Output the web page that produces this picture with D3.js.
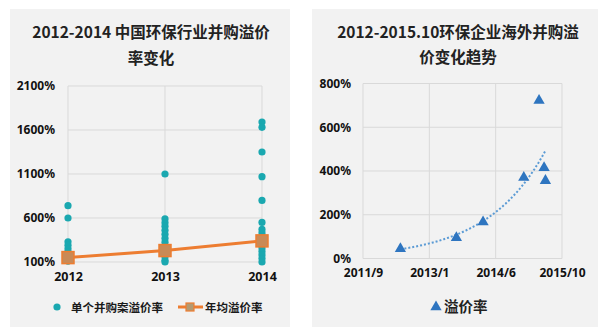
<!DOCTYPE html>
<html><head><meta charset="utf-8">
<script src="https://cdn.jsdelivr.net/npm/d3@7"></script>
<style>
body{margin:0;background:#fff;}
svg{display:block;font-family:"Noto Sans CJK SC","Noto Sans",sans-serif;}
</style></head>
<body><svg id="c" width="610" height="335"></svg>
<script>
// ---- Left chart data ----
const years = ["2012", "2013", "2014"];
const deals2012 = [740, 600, 330, 290, 250, 215, 180, 145, 110];
const deals2013 = [1100, 590, 545, 505, 460, 415, 370, 325, 280, 240, 200, 160, 120, 100];
const deals2014 = [1690, 1630, 1350, 1070, 800, 550, 470, 430, 390, 350, 305, 260, 220, 180, 140, 100];
const avgRate = [150, 230, 340];
const leftTicks = [100, 600, 1100, 1600, 2100];

// ---- Right chart data ----
const dealDates = ["2012-06-22", "2013-08-18", "2014-03-07", "2015-01-08", "2015-05-03", "2015-06-10", "2015-06-20"];
const dealPremium = [45, 95, 167, 370, 722, 415, 356];
const rightTicksY = [0, 200, 400, 600, 800];
const rightTicksX = ["2011-09-14", "2013-01-26", "2014-06-10", "2015-10-23"];

const svg = d3.select("#c");
const teal = "#1aa8b0", orange = "#ed7d31", blue = "#2e75c0", grid = "#d9d9d9";

// panels
svg.append("rect").attr("x", 10).attr("y", 9).attr("width", 280).attr("height", 318).attr("fill", "#f2f2f2");
svg.append("rect").attr("x", 312).attr("y", 9).attr("width", 286).attr("height", 318).attr("fill", "#f2f2f2");

// ===== Left chart =====
const L = svg.append("g");
L.append("text").attr("x", 151).attr("y", 38).attr("text-anchor", "middle").attr("font-size", 15.5).attr("font-weight", "bold").attr("fill", "#222").text("2012-2014 中国环保行业并购溢价");
L.append("text").attr("x", 151).attr("y", 64).attr("text-anchor", "middle").attr("font-size", 15.5).attr("font-weight", "bold").attr("fill", "#222").text("率变化");

const xL = d3.scalePoint().domain(years).range([68, 262]);
const yL = d3.scaleLinear().domain([100, 2100]).range([262, 86]);

// grid
L.append("g").selectAll("line").data(leftTicks).join("line")
  .attr("x1", 68).attr("x2", 262).attr("y1", d => yL(d)).attr("y2", d => yL(d))
  .attr("stroke", grid).attr("stroke-width", 1);
L.append("g").selectAll("line").data(years).join("line")
  .attr("x1", d => xL(d)).attr("x2", d => xL(d)).attr("y1", 86).attr("y2", 262)
  .attr("stroke", grid).attr("stroke-width", 1);

// axes
const axLY = d3.axisLeft(yL).tickValues(leftTicks).tickFormat(d => d + "%").tickSize(0).tickPadding(13);
const gLY = L.append("g").attr("transform", "translate(68,0)").call(axLY);
gLY.select(".domain").remove();
gLY.selectAll("text").attr("font-size", 12).attr("font-weight", "bold").attr("fill", "#111").attr("font-family", "'Noto Sans',sans-serif");
const axLX = d3.axisBottom(xL).tickSize(0).tickPadding(10);
const gLX = L.append("g").attr("transform", "translate(0,262)").call(axLX);
gLX.select(".domain").remove();
gLX.selectAll("text").attr("font-size", 12.5).attr("font-weight", "bold").attr("fill", "#111").attr("font-family", "'Noto Sans',sans-serif");

// dots
const dealsAll = [deals2012, deals2013, deals2014];
const dotData = [];
dealsAll.forEach((arr, i) => arr.forEach(v => dotData.push({ yr: years[i], v })));
L.append("g").selectAll("circle").data(dotData).join("circle")
  .attr("cx", d => xL(d.yr)).attr("cy", d => yL(d.v)).attr("r", 3.6).attr("fill", teal);

// average line
const avgData = years.map((y, i) => ({ yr: y, v: avgRate[i] }));
L.append("path").datum(avgData)
  .attr("d", d3.line().x(d => xL(d.yr)).y(d => yL(d.v)))
  .attr("fill", "none").attr("stroke", orange).attr("stroke-width", 3);
L.append("g").selectAll("rect").data(avgData).join("rect")
  .attr("x", d => xL(d.yr) - 6).attr("y", d => yL(d.v) - 6).attr("width", 12).attr("height", 12)
  .attr("fill", "#c98a56").attr("stroke", orange).attr("stroke-width", 1.5);

// legend
L.append("circle").attr("cx", 57).attr("cy", 307).attr("r", 3.6).attr("fill", teal);
L.append("text").attr("x", 71).attr("y", 311.5).attr("font-size", 11.5).attr("font-weight", "bold").attr("fill", "#1a1a1a").text("单个并购案溢价率");
L.append("line").attr("x1", 178).attr("x2", 203).attr("y1", 307).attr("y2", 307).attr("stroke", orange).attr("stroke-width", 3);
L.append("rect").attr("x", 186).attr("y", 303).attr("width", 8).attr("height", 8).attr("fill", "#b39a72").attr("stroke", orange).attr("stroke-width", 1.2);
L.append("text").attr("x", 205).attr("y", 311.5).attr("font-size", 11.5).attr("font-weight", "bold").attr("fill", "#1a1a1a").text("年均溢价率");

// ===== Right chart =====
const R = svg.append("g");
R.append("text").attr("x", 458).attr("y", 38).attr("text-anchor", "middle").attr("font-size", 15.5).attr("font-weight", "bold").attr("fill", "#222").text("2012-2015.10环保企业海外并购溢");
R.append("text").attr("x", 458).attr("y", 63).attr("text-anchor", "middle").attr("font-size", 15.5).attr("font-weight", "bold").attr("fill", "#222").text("价变化趋势");

const parse = d3.timeParse("%Y-%m-%d");
const tickDates = rightTicksX.map(parse);
const xR = d3.scaleTime().domain([tickDates[0], tickDates[tickDates.length - 1]]).range([363, 562]);
const yR = d3.scaleLinear().domain([0, 800]).range([258.5, 83.5]);

R.append("g").selectAll("line").data(rightTicksY).join("line")
  .attr("x1", 363).attr("x2", 562).attr("y1", d => yR(d)).attr("y2", d => yR(d))
  .attr("stroke", grid);
R.append("g").selectAll("line").data(tickDates).join("line")
  .attr("x1", d => xR(d)).attr("x2", d => xR(d)).attr("y1", 83.5).attr("y2", 258.5)
  .attr("stroke", grid);

const axRY = d3.axisLeft(yR).tickValues(rightTicksY).tickFormat(d => d + "%").tickSize(0).tickPadding(12);
const gRY = R.append("g").attr("transform", "translate(363,0)").call(axRY);
gRY.select(".domain").remove();
gRY.selectAll("text").attr("font-size", 12).attr("font-weight", "bold").attr("fill", "#111").attr("font-family", "'Noto Sans',sans-serif");
const axRX = d3.axisBottom(xR).tickValues(tickDates).tickFormat(d3.timeFormat("%Y/%-m")).tickSize(0).tickPadding(10);
const gRX = R.append("g").attr("transform", "translate(0,258.5)").call(axRX);
gRX.select(".domain").remove();
gRX.selectAll("text").attr("font-size", 12).attr("font-weight", "bold").attr("fill", "#111").attr("font-family", "'Noto Sans',sans-serif");

// exponential trendline (least squares on ln y)
const pts = dealDates.map((d, i) => ({ t: parse(d), v: dealPremium[i] }));
const day = 86400000;
const xs = pts.map(p => p.t / day), ls = pts.map(p => Math.log(p.v));
const mx = d3.mean(xs), ml = d3.mean(ls);
const slope = d3.sum(xs.map((x, i) => (x - mx) * (ls[i] - ml))) / d3.sum(xs.map(x => (x - mx) ** 2));
const tMin = d3.min(xs), tMax = d3.max(xs);
const trend = d3.range(0, 41).map(k => {
  const x = tMin + (tMax - tMin) * k / 40;
  return { t: new Date(x * day), v: Math.exp(ml + slope * (x - mx)) };
});
R.append("path").datum(trend)
  .attr("d", d3.line().x(d => xR(d.t)).y(d => yR(d.v)))
  .attr("fill", "none").attr("stroke", "#5b9bd5").attr("stroke-width", 2).attr("stroke-dasharray", "2,2");

const tri = d3.symbol().type(d3.symbolTriangle).size(55);
R.append("g").selectAll("path").data(pts).join("path")
  .attr("d", tri).attr("transform", d => `translate(${xR(d.t)},${yR(d.v)})`).attr("fill", blue);

// legend
R.append("path").attr("d", tri).attr("transform", "translate(436,307)").attr("fill", blue);
R.append("text").attr("x", 444).attr("y", 312).attr("font-size", 14.5).attr("font-weight", "bold").attr("fill", "#222").text("溢价率");
</script></body></html>
